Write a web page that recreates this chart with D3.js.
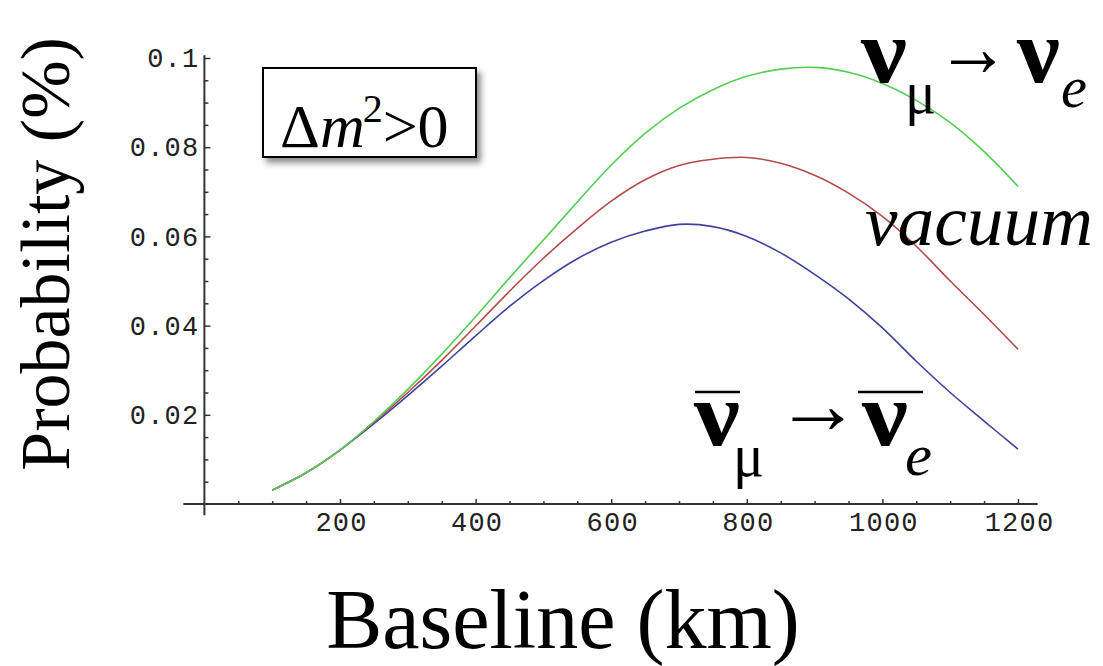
<!DOCTYPE html>
<html>
<head>
<meta charset="utf-8">
<script src="https://cdn.jsdelivr.net/npm/d3@7"></script>
<style>
  html, body { margin: 0; padding: 0; background: #fff; }
  svg { display: block; }
</style>
</head>
<body>
<svg id="chart" width="1103" height="666"></svg>
<script>
// ---- data ----
const baselineKm = [100,150,200,250,300,350,400,450,500,550,600,650,700,750,800,850,900,950,1000,1050,1100,1150,1200];
const probNuMuToNuE = [0.0031,0.0070,0.0121,0.0185,0.0257,0.0336,0.0420,0.0507,0.0592,0.0677,0.0760,0.0831,0.0887,0.0929,0.0959,0.0975,0.0979,0.0968,0.0943,0.0905,0.0855,0.0790,0.0712];
const probVacuum    = [0.0031,0.0070,0.0121,0.0183,0.0250,0.0322,0.0399,0.0477,0.0551,0.0618,0.0679,0.0727,0.0759,0.0773,0.0777,0.0764,0.0737,0.0697,0.0645,0.0578,0.0500,0.0425,0.0347];
const probAntiNu    = [0.0031,0.0070,0.0121,0.0180,0.0243,0.0309,0.0377,0.0443,0.0501,0.0550,0.0587,0.0612,0.0627,0.0622,0.0600,0.0563,0.0515,0.0460,0.0395,0.0320,0.0250,0.0186,0.0123];
const xMajorTicks = [200,400,600,800,1000,1200];
const xTickLabels = ["200","400","600","800","1000","1200"];
const yMajorTicks = [0.02,0.04,0.06,0.08,0.1];
const yTickLabels = ["0.02","0.04","0.06","0.08","0.1"];
const seriesColors = ["#55cc55", "#b54a4a", "#40409e"];

const svg = d3.select("#chart");
const x = d3.scaleLinear().domain([0, 1200]).range([204.4, 1018]);
const y = d3.scaleLinear().domain([0, 0.1]).range([504, 58]);

// drop shadow filter
const defs = svg.append("defs");
const f = defs.append("filter").attr("id","shadow").attr("x","-20%").attr("y","-20%").attr("width","150%").attr("height","160%");
f.append("feDropShadow").attr("dx",4).attr("dy",5).attr("stdDeviation",3).attr("flood-color","#000").attr("flood-opacity",0.45);

const axisColor = "#333";
const tickFont = "'Liberation Mono', 'Courier New', monospace";

// axis lines
svg.append("line").attr("x1", x(-31)).attr("x2", x(1229)).attr("y1", y(0)).attr("y2", y(0))
  .attr("stroke", axisColor).attr("stroke-width", 2);
svg.append("line").attr("x1", x(0)).attr("x2", x(0)).attr("y1", y(0.1006)).attr("y2", y(-0.0025))
  .attr("stroke", axisColor).attr("stroke-width", 2);

// x axis ticks
const xMinor = d3.range(50, 1200, 50).filter(v => v % 200 !== 0);
const gx = svg.append("g").attr("transform", `translate(0,${y(0)})`)
  .call(d3.axisBottom(x).tickValues(xMajorTicks).tickSizeInner(-5).tickSizeOuter(0).tickPadding(8)
    .tickFormat((d,i) => xTickLabels[i]));
gx.select(".domain").remove();
gx.selectAll(".tick line").attr("stroke", axisColor).attr("stroke-width", 1.5);
gx.selectAll("text").attr("font-family", tickFont).attr("font-size", 27).attr("fill", "#222")
  .attr("letter-spacing", 1.2).attr("dx", 1);
const gxm = svg.append("g").attr("transform", `translate(0,${y(0)})`)
  .call(d3.axisBottom(x).tickValues(xMinor).tickSizeInner(-3).tickSizeOuter(0).tickFormat(""));
gxm.select(".domain").remove();
gxm.selectAll(".tick line").attr("stroke", axisColor).attr("stroke-width", 1.5);

// y axis ticks
const yMinor = d3.range(1, 20).map(k => k * 0.005).filter(v => Math.abs(v / 0.02 - Math.round(v / 0.02)) > 1e-6);
const gy = svg.append("g").attr("transform", `translate(${x(0)},0)`)
  .call(d3.axisLeft(y).tickValues(yMajorTicks).tickSizeInner(-6).tickSizeOuter(0).tickPadding(5)
    .tickFormat((d,i) => yTickLabels[i]));
gy.select(".domain").remove();
gy.selectAll(".tick line").attr("stroke", axisColor).attr("stroke-width", 1.5);
gy.selectAll("text").attr("font-family", tickFont).attr("font-size", 27).attr("fill", "#222")
  .attr("letter-spacing", 1.2);
const gym = svg.append("g").attr("transform", `translate(${x(0)},0)`)
  .call(d3.axisLeft(y).tickValues(yMinor).tickSizeInner(-4).tickSizeOuter(0).tickFormat(""));
gym.select(".domain").remove();
gym.selectAll(".tick line").attr("stroke", axisColor).attr("stroke-width", 1.5);

// curves
const line = d3.line().x((d,i) => x(baselineKm[i])).y(d => y(d)).curve(d3.curveCatmullRom.alpha(0.5));
[probAntiNu, probVacuum, probNuMuToNuE].forEach((s, k) => {
  svg.append("path").attr("d", line(s)).attr("fill", "none")
    .attr("stroke", seriesColors[2 - k]).attr("stroke-width", 1.6);
});

const serif = "'Liberation Serif', 'Times New Roman', serif";

// axis titles
svg.append("text").attr("transform", "translate(69,254) rotate(-90)")
  .attr("text-anchor", "middle").attr("font-family", serif).attr("font-size", 70).attr("fill", "#000")
  .text("Probability (%)");
svg.append("text").attr("x", 563).attr("y", 648).attr("text-anchor", "middle")
  .attr("font-family", serif).attr("font-size", 84).attr("fill", "#000").text("Baseline (km)");

// Δm²>0 box
svg.append("rect").attr("x", 263).attr("y", 68).attr("width", 213).attr("height", 89)
  .attr("fill", "#fff").attr("stroke", "#000").attr("stroke-width", 2).attr("filter", "url(#shadow)");
const dm = svg.append("text").attr("x", 280).attr("y", 147).attr("font-family", serif).attr("font-size", 62).attr("fill", "#000");
dm.append("tspan").text("Δ");
dm.append("tspan").attr("font-style", "italic").text("m");
dm.append("tspan").attr("font-size", 40).attr("dy", -25).attr("dx", -2).text("2");
dm.append("tspan").attr("dy", 25).text(">0");

// labels
function glyph(txt, xx, yy, size, w, opts = {}) {
  const t = svg.append("text").attr("x", xx).attr("y", yy).attr("font-family", serif)
    .attr("font-size", size).attr("fill", "#000").text(txt);
  if (w) t.attr("textLength", w).attr("lengthAdjust", "spacingAndGlyphs");
  if (opts.italic) t.attr("font-style", "italic");
  if (opts.bold) t.attr("font-weight", "bold");
  return t;
}
// ν_μ → ν_e (top)
glyph("ν", 861, 82, 92, 46, {bold: true});
glyph("μ", 905, 113, 62, 31);
glyph("→", 936, 76, 84, 74, {bold: true});
glyph("ν", 1017, 82, 92, 43, {bold: true});
glyph("e", 1061, 107, 60, 26, {italic: true});
// vacuum
glyph("vacuum", 865, 245, 72, 228, {italic: true});
// anti ν_μ → anti ν_e (bottom)
glyph("ν", 694, 445, 92, 46, {bold: true});
glyph("μ", 733, 476, 62, 31);
glyph("→", 775, 433, 84, 86, {bold: true});
glyph("ν", 862, 445, 92, 46, {bold: true});
glyph("e", 905, 475, 60, 27, {italic: true});
svg.append("line").attr("x1", 695).attr("x2", 740).attr("y1", 392).attr("y2", 392).attr("stroke", "#000").attr("stroke-width", 2.5);
svg.append("line").attr("x1", 858).attr("x2", 923).attr("y1", 392).attr("y2", 392).attr("stroke", "#000").attr("stroke-width", 2.5);
</script>
</body>
</html>
